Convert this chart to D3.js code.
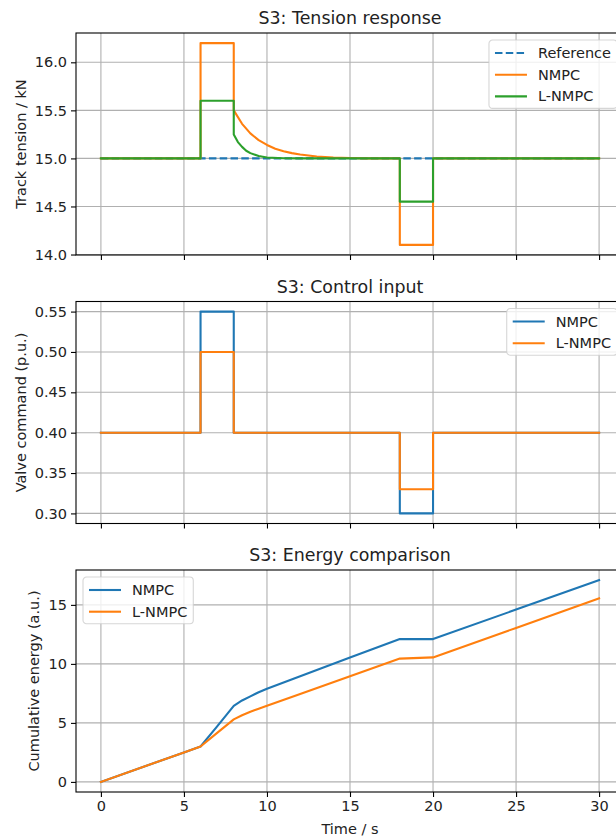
<!DOCTYPE html>
<html>
<head>
<meta charset="utf-8">
<script src="https://cdn.jsdelivr.net/npm/d3@7"></script>
<style>
  body { margin: 0; background: #fff; overflow: hidden; }
  svg { display: block; font-family: "DejaVu Sans", sans-serif; }
</style>
</head>
<body>
<svg id="chart" width="616" height="837"></svg>
<script>
// shared time axis
var xTicks = [0, 5, 10, 15, 20, 25, 30];

// S3 tension response (kN)
var refTime = [0, 30];
var refTension = [15, 15];
var nmpcTensionTime = [0, 6, 6, 8, 8, 8.5, 9, 9.5, 10, 10.5, 11, 11.5, 12, 13, 14, 15, 16, 18, 18, 20, 20, 30];
var nmpcTension = [15, 15, 16.2, 16.2, 15.5, 15.36, 15.26, 15.19, 15.14, 15.1, 15.075, 15.055, 15.04, 15.02, 15.01, 15.005, 15, 15, 14.1, 14.1, 15, 15];
var lnmpcTensionTime = [0, 6, 6, 8, 8, 8.25, 8.5, 8.75, 9, 9.5, 10, 11, 12, 18, 18, 20, 20, 30];
var lnmpcTension = [15, 15, 15.6, 15.6, 15.25, 15.17, 15.12, 15.08, 15.055, 15.025, 15.01, 15.002, 15, 15, 14.55, 14.55, 15, 15];
var tensionTicks = [14.0, 14.5, 15.0, 15.5, 16.0];

// S3 control input (p.u.)
var valveTime = [0, 6, 6, 8, 8, 18, 18, 20, 20, 30];
var nmpcValve = [0.40, 0.40, 0.55, 0.55, 0.40, 0.40, 0.30, 0.30, 0.40, 0.40];
var lnmpcValve = [0.40, 0.40, 0.50, 0.50, 0.40, 0.40, 0.33, 0.33, 0.40, 0.40];
var valveTicks = [0.30, 0.35, 0.40, 0.45, 0.50, 0.55];

// S3 cumulative energy (a.u.)
var energyTime = [0, 5, 6, 7, 8, 8.5, 9, 9.5, 10, 12, 15, 18, 20, 25, 30];
var nmpcEnergy = [0, 2.5, 3.0, 4.7, 6.45, 6.9, 7.25, 7.6, 7.9, 8.95, 10.55, 12.1, 12.1, 14.6, 17.1];
var lnmpcEnergy = [0, 2.5, 3.0, 4.15, 5.3, 5.65, 5.95, 6.2, 6.45, 7.45, 8.95, 10.45, 10.55, 13.05, 15.56];
var energyTicks = [0, 5, 10, 15];

var C0 = "#1f77b4", C1 = "#ff7f0e", C2 = "#2ca02c";

var panels = [
  {title: "S3: Tension response", ylabel: "Track tension / kN", top: 33, ticks: tensionTicks, fmt: ".1f", legend: "right", xlabels: false,
   series: [
     {label: "Reference", t: refTime, v: refTension, color: C0, dash: "7.5,3.3"},
     {label: "NMPC", t: nmpcTensionTime, v: nmpcTension, color: C1},
     {label: "L-NMPC", t: lnmpcTensionTime, v: lnmpcTension, color: C2}
   ]},
  {title: "S3: Control input", ylabel: "Valve command (p.u.)", top: 301.5, ticks: valveTicks, fmt: ".2f", legend: "right", xlabels: false,
   series: [
     {label: "NMPC", t: valveTime, v: nmpcValve, color: C0},
     {label: "L-NMPC", t: valveTime, v: lnmpcValve, color: C1}
   ]},
  {title: "S3: Energy comparison", ylabel: "Cumulative energy (a.u.)", top: 570, ticks: energyTicks, fmt: "d", legend: "left", xlabels: true,
   series: [
     {label: "NMPC", t: energyTime, v: nmpcEnergy, color: C0},
     {label: "L-NMPC", t: energyTime, v: lnmpcEnergy, color: C1}
   ]}
];

let svg = d3.select("#chart"),
    left = 76, right = 624,
    panelHeight = 222,
    fontSize = 14.5,
    gridColor = "#b0b0b0";

//5% margins like matplotlib
function padded(ext) {
  let p = (ext[1] - ext[0]) * 0.05;
  return [ext[0] - p, ext[1] + p];
}

let x = d3.scaleLinear().domain(padded([0, 30])).range([left, right]);

panels.forEach(function(p, i) {
  let bottom = p.top + panelHeight;
  let allValues = [].concat.apply([], p.series.map(function(s) { return s.v; }));
  let y = d3.scaleLinear().domain(padded(d3.extent(allValues))).range([bottom, p.top]);

  let g = svg.append("g").attr("class", "panel");

  g.append("clipPath").attr("id", "clip" + i)
    .append("rect")
    .attr("x", left).attr("y", p.top)
    .attr("width", right - left).attr("height", panelHeight);

  //grid
  g.selectAll(".vgrid").data(xTicks).enter().append("line")
    .attr("x1", function(d) { return x(d); }).attr("x2", function(d) { return x(d); })
    .attr("y1", p.top).attr("y2", bottom)
    .attr("stroke", gridColor).attr("stroke-width", 1.1);
  g.selectAll(".hgrid").data(p.ticks).enter().append("line")
    .attr("x1", left).attr("x2", right)
    .attr("y1", function(d) { return y(d); }).attr("y2", function(d) { return y(d); })
    .attr("stroke", gridColor).attr("stroke-width", 1.1);

  //lines
  let line = d3.line()
    .x(function(d) { return x(d[0]); })
    .y(function(d) { return y(d[1]); });

  let lines = g.append("g").attr("clip-path", "url(#clip" + i + ")");
  p.series.forEach(function(s) {
    lines.append("path")
      .datum(d3.zip(s.t, s.v))
      .attr("d", line)
      .attr("fill", "none")
      .attr("stroke", s.color)
      .attr("stroke-width", 2.1)
      .attr("stroke-linejoin", "round")
      .attr("stroke-linecap", s.dash ? "butt" : "square")
      .attr("stroke-dasharray", s.dash || null);
  });

  //spines
  g.append("rect")
    .attr("x", left).attr("y", p.top)
    .attr("width", right - left).attr("height", panelHeight)
    .attr("fill", "none").attr("stroke", "#000").attr("stroke-width", 1.1);

  //axes
  let xAxis = g.append("g")
    .attr("transform", "translate(0," + bottom + ")")
    .call(d3.axisBottom(x).tickValues(xTicks).tickSize(5).tickPadding(4)
      .tickFormat(p.xlabels ? d3.format("d") : function() { return ""; }));
  let yAxis = g.append("g")
    .attr("transform", "translate(" + left + ",0)")
    .call(d3.axisLeft(y).tickValues(p.ticks).tickSize(5).tickPadding(4).tickFormat(d3.format(p.fmt)));

  [xAxis, yAxis].forEach(function(a) {
    a.select(".domain").remove();
    a.attr("font-family", "DejaVu Sans, sans-serif").attr("font-size", fontSize);
    a.selectAll("line").attr("stroke", "#000").attr("stroke-width", 1.1);
    a.selectAll("text").attr("fill", "#222");
  });

  //title
  g.append("text")
    .attr("x", (left + right) / 2)
    .attr("y", p.top - 8.6)
    .attr("text-anchor", "middle")
    .attr("font-size", 17.4)
    .attr("fill", "#222")
    .text(p.title);

  //y label placed from the width of the tick labels
  let tickWidth = d3.max(yAxis.selectAll("text").nodes(), function(n) { return n.getBBox().width; });
  let labelX = left - 9 - tickWidth - 5.7 - 8.4;
  g.append("text")
    .attr("transform", "translate(" + labelX + "," + (p.top + panelHeight / 2) + ") rotate(-90)")
    .attr("text-anchor", "middle")
    .attr("dominant-baseline", "central")
    .attr("font-size", fontSize)
    .attr("fill", "#222")
    .text(p.ylabel);

  if (p.xlabels) {
    g.append("text")
      .attr("x", (left + right) / 2)
      .attr("y", bottom + 42)
      .attr("text-anchor", "middle")
      .attr("font-size", fontSize)
      .attr("fill", "#222")
      .text("Time / s");
  }

  //legend
  let leg = g.append("g");
  let items = leg.selectAll(".item").data(p.series).enter().append("g");
  items.append("text")
    .attr("x", 6 + 32 + 11)
    .attr("y", function(d, k) { return 13 + k * 21.7; })
    .attr("dominant-baseline", "central")
    .attr("font-size", fontSize)
    .attr("fill", "#222")
    .text(function(d) { return d.label; });
  let textWidth = d3.max(items.selectAll("text").nodes(), function(n) { return n.getComputedTextLength(); });
  let boxW = 6 + 32 + 11 + textWidth + 6,
      boxH = 13 + (p.series.length - 1) * 21.7 + 12;

  leg.insert("rect", ":first-child")
    .attr("x", 0).attr("y", 0)
    .attr("width", boxW).attr("height", boxH)
    .attr("rx", 3.5)
    .attr("fill", "#fff").attr("fill-opacity", 0.8)
    .attr("stroke", "#cccccc").attr("stroke-opacity", 0.8).attr("stroke-width", 1.1);
  items.append("line")
    .attr("x1", 6).attr("x2", 38)
    .attr("y1", function(d, k) { return 13 + k * 21.7; })
    .attr("y2", function(d, k) { return 13 + k * 21.7; })
    .attr("stroke", function(d) { return d.color; })
    .attr("stroke-width", 2.1)
    .attr("stroke-dasharray", function(d) { return d.dash || null; });

  let legX = p.legend === "right" ? right - 7 - boxW : left + 7;
  leg.attr("transform", "translate(" + legX + "," + (p.top + 7) + ")");
});
</script>
</body>
</html>
